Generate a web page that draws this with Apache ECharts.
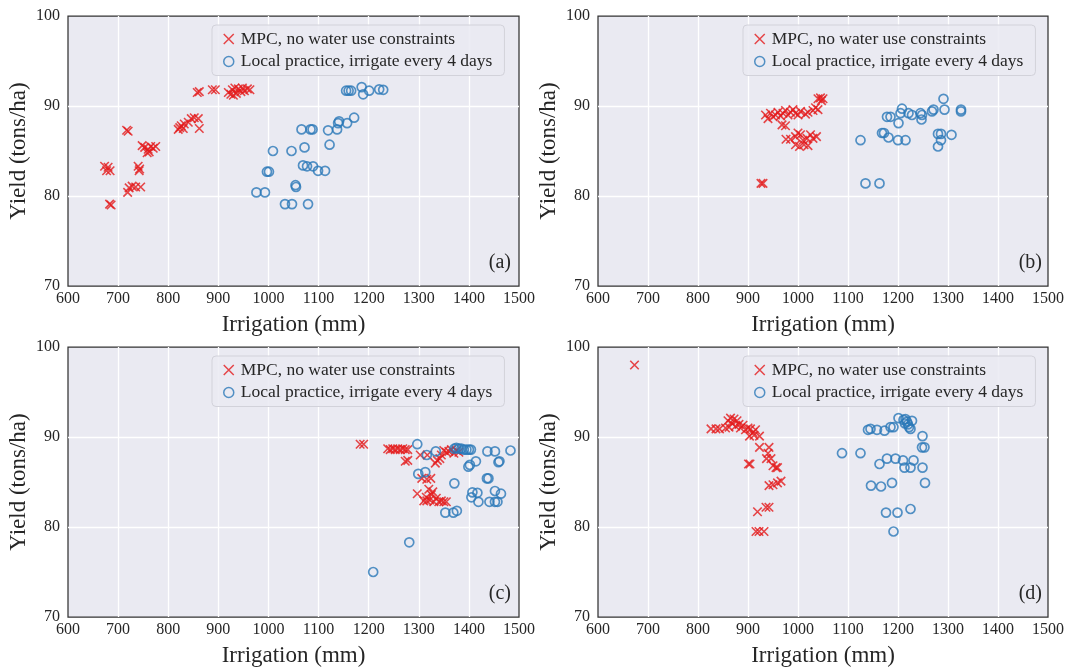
<!DOCTYPE html>
<html>
<head>
<meta charset="utf-8">
<script src="https://cdn.jsdelivr.net/npm/echarts@6/dist/echarts.min.js"></script>
<style>
html,body{margin:0;padding:0;background:#fff;}
#chart{width:1067px;height:668px;}
</style>
</head>
<body>
<div id="chart"></div>
<script>
// ---- Data ----
var seriesNames = ['MPC, no water use constraints', 'Local practice, irrigate every 4 days'];
var panelLabels = ['(a)', '(b)', '(c)', '(d)'];
var xTicks = [600, 700, 800, 900, 1000, 1100, 1200, 1300, 1400, 1500];
var yTicks = [70, 80, 90, 100];

var mpcA = [[673,83.3],[680,83.2],[677,82.8],[684,82.8],[686,79.0],[683,79.1],[717,87.3],[720,87.2],[719,80.4],[722,80.9],[728,81.1],[735,81.0],[745,81.0],[740,83.3],[742,82.8],[743,83.0],[748,85.6],[753,85.4],[760,85.2],[765,85.5],[762,84.9],[770,85.3],[775,85.5],[758,84.8],[820,87.4],[823,87.6],[826,87.8],[830,87.5],[832,88.0],[840,88.2],[846,88.6],[852,88.7],[860,88.6],[862,87.5],[858,91.5],[862,91.6],[888,91.8],[894,91.8],[920,91.5],[925,91.3],[928,91.8],[933,92.0],[936,91.4],[940,91.9],[945,91.6],[948,92.0],[952,91.7],[958,91.9],[963,91.8],[930,91.2]];
var localA = [[1155,91.7],[1160,91.7],[1165,91.7],[1186,92.1],[1189,91.3],[1201,91.7],[1221,91.85],[1229,91.8],[1171,88.7],[1157,88.1],[1139,88.1],[1141,88.3],[1137,87.4],[1119,87.3],[1084,87.4],[1088,87.4],[1066,87.4],[1122,85.7],[1072,85.4],[1046,85.0],[1009,85.0],[997,82.7],[1001,82.7],[1069,83.4],[1077,83.3],[1089,83.3],[1099,82.8],[1113,82.8],[1054,81.2],[1055,81.0],[976,80.4],[993,80.4],[1033,79.1],[1047,79.1],[1079,79.1]];

var mpcB = [[1040,90.8],[1045,90.9],[1050,90.8],[1047,90.6],[935,89.0],[940,88.6],[945,89.2],[950,88.8],[955,89.0],[960,89.3],[965,88.9],[970,89.2],[975,89.5],[980,89.0],[985,89.3],[990,89.6],[995,89.2],[1000,89.0],[1005,89.4],[1015,89.1],[1020,89.3],[1030,89.5],[1035,89.8],[1040,89.6],[968,87.9],[975,87.8],[976,86.3],[985,86.3],[995,86.6],[1000,87.0],[1005,86.8],[1010,86.2],[1012,85.7],[1018,86.4],[1020,85.6],[1025,86.8],[1030,86.4],[1037,86.6],[995,85.7],[1003,85.5],[926,81.4],[930,81.4]];
var localB = [[1125,86.2],[1135,81.4],[1163,81.4],[1168,87.0],[1172,87.0],[1181,86.5],[1200,86.2],[1215,86.2],[1178,88.8],[1185,88.8],[1201,88.1],[1208,89.7],[1205,89.2],[1221,89.2],[1228,89.0],[1245,89.2],[1247,88.5],[1248,89.0],[1271,89.6],[1268,89.4],[1291,90.8],[1293,89.6],[1326,89.6],[1326,89.4],[1280,86.9],[1286,86.9],[1307,86.8],[1286,86.2],[1280,85.5]];

var mpcC = [[1183,89.2],[1190,89.2],[1238,88.7],[1243,88.6],[1248,88.7],[1253,88.6],[1258,88.7],[1263,88.6],[1268,88.7],[1273,88.6],[1278,88.6],[1273,87.3],[1278,87.4],[1303,88.0],[1317,88.0],[1333,87.1],[1337,87.4],[1342,87.6],[1345,88.0],[1350,88.5],[1355,88.3],[1360,88.4],[1365,88.6],[1370,88.2],[1375,88.5],[1380,88.3],[1306,85.4],[1316,85.3],[1324,85.4],[1297,83.7],[1320,84.2],[1325,83.6],[1322,83.0],[1328,83.9],[1310,82.9],[1315,83.3],[1330,82.8],[1335,83.2],[1340,82.8],[1345,82.9],[1350,82.8],[1355,82.8],[1316,82.9]];
var localC = [[1297,89.2],[1334,88.4],[1316,88.0],[1371,88.7],[1375,88.8],[1380,88.7],[1385,88.7],[1390,88.6],[1395,88.6],[1400,88.6],[1404,88.6],[1437,88.4],[1452,88.4],[1483,88.5],[1461,87.3],[1459,87.2],[1414,87.3],[1402,86.9],[1399,86.7],[1299,85.9],[1313,86.1],[1436,85.4],[1439,85.4],[1371,84.85],[1452,84.0],[1464,83.7],[1407,83.85],[1417,83.8],[1405,83.3],[1419,82.8],[1441,82.8],[1452,82.8],[1457,82.8],[1353,81.6],[1369,81.6],[1376,81.8],[1281,78.3],[1209,75.0]];

var mpcD = [[673,98.0],[826,90.9],[836,90.9],[843,90.9],[855,91.0],[860,91.8],[865,92.1],[868,91.5],[872,92.0],[875,91.2],[878,91.8],[882,91.4],[885,91.0],[890,91.3],[895,90.8],[900,91.0],[905,90.9],[910,90.5],[915,90.8],[862,91.1],[903,90.1],[912,90.2],[923,90.1],[923,88.85],[942,88.85],[940,88.2],[937,87.6],[946,87.6],[950,86.8],[956,86.6],[959,86.6],[901,87.0],[904,87.0],[942,84.6],[950,84.7],[959,84.9],[966,85.1],[919,81.7],[936,82.2],[942,82.2],[916,79.5],[922,79.5],[932,79.5]];
var localD = [[1201,92.1],[1211,91.9],[1215,92.0],[1218,91.7],[1220,91.4],[1222,91.1],[1225,90.9],[1228,91.8],[1214,91.5],[1140,90.8],[1145,90.9],[1158,90.8],[1173,90.7],[1185,91.1],[1191,91.1],[1249,90.1],[1248,88.85],[1253,88.85],[1088,88.2],[1125,88.2],[1178,87.6],[1195,87.6],[1210,87.4],[1231,87.4],[1163,87.0],[1213,86.6],[1225,86.6],[1249,86.6],[1146,84.6],[1166,84.5],[1188,84.9],[1254,84.9],[1176,81.6],[1199,81.6],[1225,82.0],[1191,79.5]];

var mpcPanels = [mpcA, mpcB, mpcC, mpcD];
var localPanels = [localA, localB, localC, localD];

// ---- Styling / layout ----
var RED = '#e31a1c', BLUE = '#2b78b8';
var FONT = 'Liberation Serif';
var TXT = '#262626';
var CROSS = 'path://M0,0L10,10M0,10L10,0';
var gridPos = [
  {left: 68, top: 16, width: 451, height: 270},
  {left: 598, top: 16, width: 452, height: 270},
  {left: 68, top: 347, width: 451, height: 270},
  {left: 598, top: 347, width: 452, height: 270}
];

var grids = [], xAxes = [], yAxes = [], series = [], legends = [], graphics = [];
gridPos.forEach(function (g, i) {
  grids.push(Object.assign({show: true, backgroundColor: '#eaeaf2', borderColor: '#333333', borderWidth: 1.25, z: 0}, g));
  xAxes.push({
    gridIndex: i, type: 'value', min: xTicks[0], max: xTicks[xTicks.length - 1], interval: 100,
    name: 'Irrigation (mm)', nameLocation: 'middle', nameGap: 27,
    nameTextStyle: {fontFamily: FONT, fontSize: 23, color: TXT},
    axisLine: {show: false}, axisTick: {show: false},
    axisLabel: {fontFamily: FONT, fontSize: 16, color: TXT, margin: 5,
      formatter: function (v) { return String(v); }},
    splitLine: {show: true, showMinLine: false, showMaxLine: false, lineStyle: {color: '#ffffff', width: 1.3}}
  });
  yAxes.push({
    gridIndex: i, type: 'value', min: yTicks[0], max: yTicks[yTicks.length - 1], interval: 10,
    name: 'Yield (tons/ha)', nameLocation: 'middle', nameGap: 38, nameRotate: 90,
    nameTextStyle: {fontFamily: FONT, fontSize: 23, color: TXT},
    axisLine: {show: false}, axisTick: {show: false},
    axisLabel: {fontFamily: FONT, fontSize: 16, color: TXT, margin: 8},
    splitLine: {show: true, showMinLine: false, showMaxLine: false, lineStyle: {color: '#ffffff', width: 1.3}}
  });
  series.push({
    name: seriesNames[0], type: 'scatter', xAxisIndex: i, yAxisIndex: i,
    data: mpcPanels[i], symbol: CROSS, symbolSize: 8.5, z: 3,
    itemStyle: {color: 'rgba(0,0,0,0)', borderColor: RED, borderWidth: 1.6},
    emphasis: {disabled: true}
  });
  series.push({
    name: seriesNames[1], type: 'scatter', xAxisIndex: i, yAxisIndex: i,
    data: localPanels[i], symbol: 'circle', symbolSize: 9, z: 3,
    itemStyle: {color: 'rgba(0,0,0,0)', borderColor: BLUE, borderWidth: 1.7},
    emphasis: {disabled: true}
  });
  legends.push({
    left: g.left + (i % 2 === 0 ? 144 : 145), top: g.top + 9,
    orient: 'vertical', selectedMode: false, z: 10,
    backgroundColor: 'rgba(234,234,242,0.85)', borderColor: '#d2d2da', borderWidth: 1, borderRadius: 4,
    padding: [5, 12, 5, 11], itemGap: 4.5, itemWidth: 10, itemHeight: 10,
    textStyle: {fontFamily: FONT, fontSize: 17.5, color: TXT, padding: [0, 0, 0, 2]},
    data: [
      {name: seriesNames[0], icon: CROSS, itemStyle: {color: 'rgba(0,0,0,0)', borderColor: RED, borderWidth: 1.5}},
      {name: seriesNames[1], icon: 'circle', itemStyle: {color: 'rgba(0,0,0,0)', borderColor: BLUE, borderWidth: 1.5}}
    ]
  });
  graphics.push({
    type: 'text', z: 20,
    right: 1067 - (g.left + g.width) + 8, top: g.top + g.height - 33,
    style: {text: panelLabels[i], fontFamily: FONT, fontSize: 20, fill: TXT}
  });
});

var chart = echarts.init(document.getElementById('chart'), null, {renderer: 'canvas'});
chart.setOption({
  animation: false,
  backgroundColor: '#ffffff',
  grid: grids, xAxis: xAxes, yAxis: yAxes, series: series,
  legend: legends, graphic: graphics
});
</script>
</body>
</html>
